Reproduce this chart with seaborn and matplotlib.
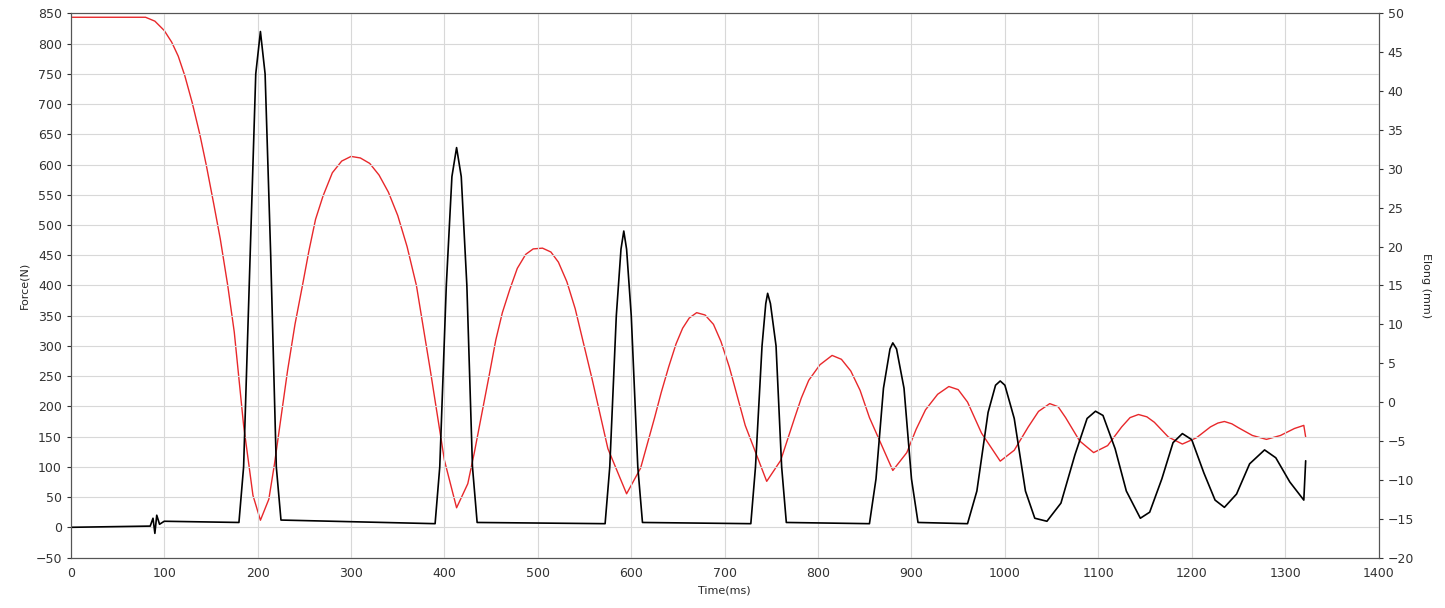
import matplotlib
matplotlib.use("Agg")
import matplotlib.pyplot as plt
import seaborn as sns

elong_t = [0,80,90,100,108,115,122,130,138,145,153,160,168,175,185,195,203,212,218,225,232,240,248,255,262,270,280,290,300,310,320,330,340,350,360,370,385,400,413,425,432,440,448,455,462,470,478,487,495,505,514,522,531,540,549,558,575,595,610,625,632,640,648,655,662,670,679,688,696,705,722,745,760,775,782,790,802,815,825,835,845,855,880,895,905,915,928,940,950,960,975,995,1010,1025,1036,1048,1057,1065,1080,1095,1110,1125,1134,1143,1152,1160,1175,1190,1205,1220,1228,1235,1243,1250,1265,1280,1295,1310,1320,1322]
elong_v = [49.5,49.5,49,47.8,46.3,44.5,42,38.5,34.5,30.5,25.5,21,15,9,-3,-12,-15.2,-12.5,-8,-2,4,10,15,19.5,23.5,26.5,29.5,31,31.6,31.4,30.7,29.2,27,24,20,15,4,-7.5,-13.6,-10.5,-6.5,-1.5,3.5,8,11.5,14.5,17.2,19,19.7,19.8,19.3,18,15.5,12,7.5,3,-6,-11.8,-8.5,-2,1.2,4.5,7.5,9.5,10.8,11.5,11.2,10,7.8,4.5,-3,-10.2,-7.5,-2,0.5,2.8,4.8,6,5.5,4,1.5,-2,-8.8,-6.5,-3.5,-1,1,2,1.6,0,-4,-7.6,-6.2,-3.2,-1.2,-0.2,-0.6,-2,-5,-6.5,-5.6,-3.2,-2,-1.6,-1.9,-2.6,-4.5,-5.4,-4.6,-3.2,-2.7,-2.5,-2.8,-3.3,-4.3,-4.8,-4.3,-3.4,-3.0,-4.5]

force_t = [0,85,88,90,92,95,100,180,185,192,198,203,208,214,220,225,390,395,402,408,413,418,424,430,435,572,577,584,589,592,595,600,607,612,728,733,740,744,746,749,755,761,766,855,862,870,877,880,884,892,900,907,960,970,982,990,995,1000,1010,1022,1032,1045,1060,1075,1088,1097,1105,1118,1130,1145,1155,1168,1180,1190,1200,1213,1225,1235,1248,1262,1278,1290,1305,1320,1322]
force_v = [0,2,15,-10,20,5,10,8,100,450,750,820,750,450,100,12,6,100,400,580,628,580,400,100,8,6,100,350,460,490,460,350,100,8,6,100,300,370,387,370,300,100,8,6,80,230,295,305,295,230,80,8,6,60,190,235,242,235,180,60,15,10,40,120,180,192,185,130,60,15,25,80,140,155,145,90,45,33,55,105,128,115,75,45,110]

sns.set_style("whitegrid")
fig, ax = plt.subplots(figsize=(14.45, 6.08), dpi=100)
fig.subplots_adjust(left=0.049, right=0.954, top=0.978, bottom=0.083)
ax2 = ax.twinx()
sns.lineplot(x=elong_t, y=elong_v, ax=ax2, color="#e8282b", linewidth=1, sort=False)
sns.lineplot(x=force_t, y=force_v, ax=ax, color="black", linewidth=1.2, sort=False)
ax.set_zorder(2); ax.patch.set_visible(False)
ax.set_xlim(0, 1400); ax.set_ylim(-50, 850)
ax2.set_ylim(-20, 50)
ax.set_xticks(range(0, 1401, 100)); ax.set_yticks(range(-50, 851, 50))
ax2.set_yticks(range(-20, 51, 5))
ax2.grid(False)
for a in (ax, ax2):
    a.tick_params(labelsize=9, length=3, colors="#333333")
    for s in a.spines.values():
        s.set_color("#555555")
ax.grid(color="#d8d8d8", linewidth=0.8)
ax.set_xlabel("Time(ms)", fontsize=8)
ax.set_ylabel("Force(N)", fontsize=8)
ax2.set_ylabel("Elong (mm)", fontsize=8, rotation=270, labelpad=12)
fig.savefig("out.png")
